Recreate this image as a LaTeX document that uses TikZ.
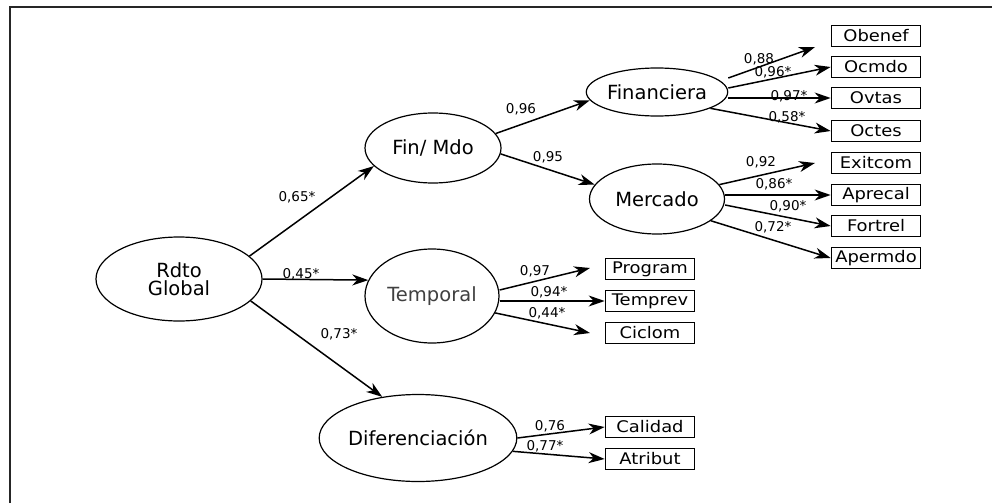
\documentclass[tikz,border=0pt]{standalone}
\usepackage{fontspec}
\setmainfont{DejaVu Sans}
\newfontfamily\boxfont[FakeStretch=1.12]{DejaVu Sans}
\usetikzlibrary{shapes.geometric,arrows.meta}
\tikzset{
  latent/.style={draw=black, line width=1.2pt, ellipse, inner sep=0pt, align=center, font=\fontsize{19.5}{21}\selectfont},
  indic/.style={draw=black, line width=1.7pt, rectangle, inner sep=0pt, minimum width=89pt, minimum height=21pt, font=\boxfont\fontsize{16}{18}\selectfont},
  effect/.style={-{Stealth[length=16pt,width=11pt,inset=5pt]}, draw=black, line width=1.5pt},
  coef/.style={black, inner sep=0pt, font=\fontsize{13.5}{15}\selectfont},
  frame/.style={draw=black!85, line width=2pt}
}

\begin{document}
\begin{tikzpicture}[x=1pt,y=-1pt]
  \useasboundingbox (0,0) rectangle (992,503);
  \draw[frame] (10,503) -- (10,7) -- (992,7);
  % latent factors
  \node[latent, minimum width=166pt, minimum height=84pt] (rdto) at (179,279) {Rdto\\[-3pt]Global};
  \node[latent, minimum width=136pt, minimum height=70pt] (finmdo) at (433,148) {Fin/ Mdo};
  \node[latent, minimum width=135pt, minimum height=48pt] (fin) at (657,92) {Financiera};
  \node[latent, minimum width=135pt, minimum height=70pt] (merc) at (657,199) {Mercado};
  \node[latent, minimum width=134pt, minimum height=94pt, text=black!75] (temp) at (432,296) {Temporal};
  \node[latent, minimum width=166pt, minimum height=87pt] (dif) at (418,438) {Diferenciación};
  % indicators
  \node[indic] (obenef) at (876,36) {Obenef};
  \node[indic] (ocmdo) at (876,67) {Ocmdo};
  \node[indic] (ovtas) at (876,98) {Ovtas};
  \node[indic] (octes) at (876,131) {Octes};
  \node[indic] (exitcom) at (876,163) {Exitcom};
  \node[indic] (aprecal) at (876,195) {Aprecal};
  \node[indic] (fortrel) at (876,226) {Fortrel};
  \node[indic] (apermdo) at (876,258) {Apermdo};
  \node[indic] (program) at (650,269) {Program};
  \node[indic] (temprev) at (650,301) {Temprev};
  \node[indic] (ciclom) at (650,333) {Ciclom};
  \node[indic] (calidad) at (650,427) {Calidad};
  \node[indic] (atribut) at (650,459) {Atribut};
  % free arrow tips
  \coordinate (tobenef) at (815,47);
  \coordinate (toexit) at (815,163);
  \coordinate (toprog) at (590,268);
  \coordinate (tociclom) at (590,333);
  % second order paths
  \draw[effect] (rdto.18) -- (finmdo.197);
  \draw[effect] (rdto.east) -- (temp.166);
  \draw[effect] (rdto.-17) -- (dif.131);
  \draw[effect] (finmdo.13) -- (fin.187);
  \draw[effect] (finmdo.-5) -- (merc.167);
  % loadings
  \draw[effect] ([yshift=14pt]fin.east) -- (tobenef);
  \draw[effect] ([yshift=4pt]fin.east) -- (ocmdo.west);
  \draw[effect] (ovtas.west -| fin.east) -- (ovtas.west);
  \draw[effect] (fin.-17) -- (octes.west);
  \draw[effect] (merc.13) -- (toexit);
  \draw[effect] (aprecal.west -| merc.east) -- (aprecal.west);
  \draw[effect] ([yshift=-6pt]merc.east) -- (fortrel.west);
  \draw[effect] (merc.-22) -- (apermdo.west);
  \draw[effect] ([yshift=6pt]temp.east) -- (toprog);
  \draw[effect] (temprev.west -| temp.east) -- (temprev.west);
  \draw[effect] (temp.-15) -- (tociclom);
  \draw[effect] (dif.east) -- (calidad.west);
  \draw[effect] (dif.-8) -- (atribut.west);
  % coefficients
  \node[coef] (c065) at (297,197) {0,65*};
  \node[coef] (c045) at (301,274) {0,45*};
  \node[coef] (c073) at (339,334) {0,73*};
  \node[coef] (c096) at (521,109) {0,96};
  \node[coef] (c095) at (548,157) {0,95};
  \node[coef] (c088) at (759,59) {0,88};
  \node[coef] (c096s) at (773,72) {0,96*};
  \node[coef] (c097s) at (789,96) {0,97*};
  \node[coef] (c058) at (787,117) {0,58*};
  \node[coef] (c092) at (761,162) {0,92};
  \node[coef] (c086) at (774,184) {0,86*};
  \node[coef] (c090) at (788,206) {0,90*};
  \node[coef] (c072) at (773,227) {0,72*};
  \node[coef] (c097) at (535,271) {0,97};
  \node[coef] (c094) at (549,292) {0,94*};
  \node[coef] (c044) at (547,313) {0,44*};
  \node[coef] (c076) at (550,426) {0,76};
  \node[coef] (c077) at (545,446) {0,77*};
\end{tikzpicture}
\end{document}
